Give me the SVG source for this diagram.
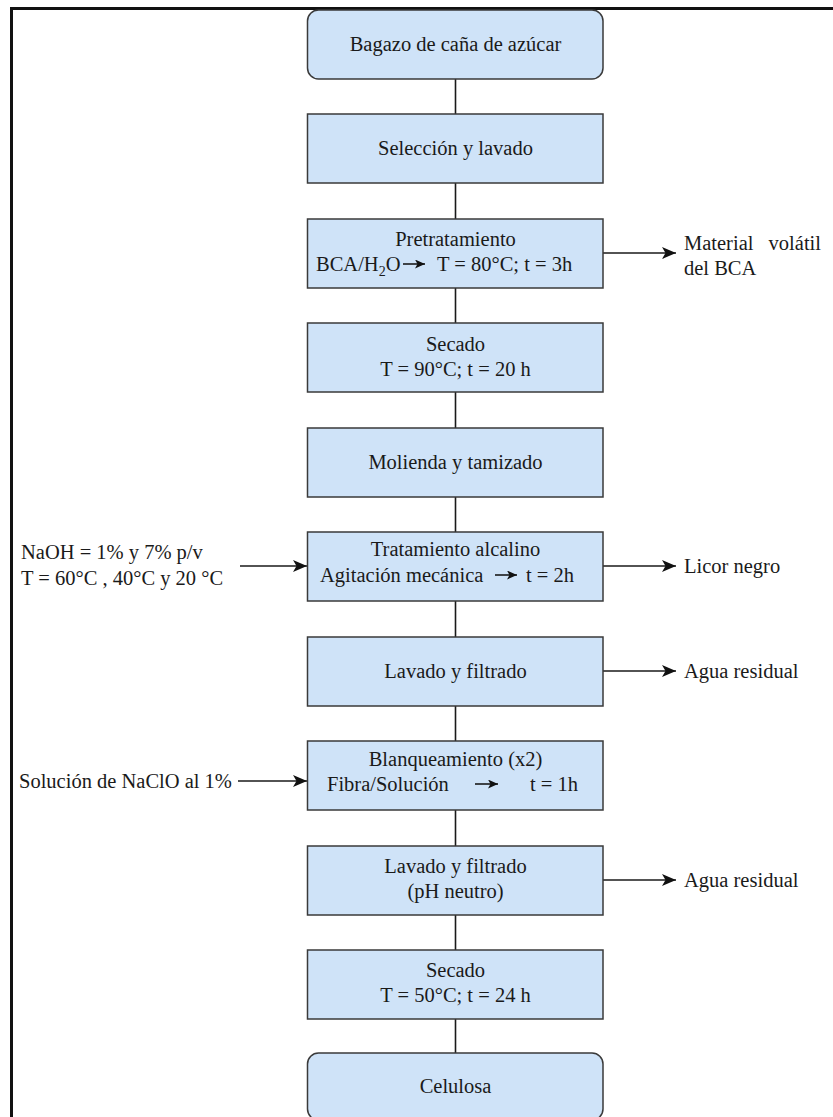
<svg xmlns="http://www.w3.org/2000/svg" width="833" height="1117" viewBox="0 0 833 1117">
<style>
.box{fill:#cfe3f8;stroke:#3a3a3a;stroke-width:1.5}
.t{font-family:"Liberation Serif","Times New Roman",serif;font-size:20.5px;fill:#1a1a1a}
.c{text-anchor:middle}
.ln{stroke:#1a1a1a;stroke-width:1.6;fill:none}
.fr{stroke:#111;stroke-width:3;fill:none}
</style>
<defs>
<marker id="ah" markerUnits="userSpaceOnUse" markerWidth="15" markerHeight="12" refX="14" refY="6" orient="auto">
<path d="M0,0 L14,6 L0,12 L3.5,6 Z" fill="#111"/>
</marker>
<marker id="sa" markerUnits="userSpaceOnUse" markerWidth="11" markerHeight="9" refX="10" refY="4.5" orient="auto">
<path d="M0,0 L10,4.5 L0,9 L2.5,4.5 Z" fill="#111"/>
</marker>
</defs>
<path class="fr" d="M11.5,1117 V8.5 H833"/>
<g id="connectors">
<line class="ln" x1="455.5" y1="79" x2="455.5" y2="114"/>
<line class="ln" x1="455.5" y1="183" x2="455.5" y2="219"/>
<line class="ln" x1="455.5" y1="288" x2="455.5" y2="323"/>
<line class="ln" x1="455.5" y1="392" x2="455.5" y2="428"/>
<line class="ln" x1="455.5" y1="497" x2="455.5" y2="532"/>
<line class="ln" x1="455.5" y1="601" x2="455.5" y2="637"/>
<line class="ln" x1="455.5" y1="706" x2="455.5" y2="741"/>
<line class="ln" x1="455.5" y1="810" x2="455.5" y2="846"/>
<line class="ln" x1="455.5" y1="915" x2="455.5" y2="950"/>
<line class="ln" x1="455.5" y1="1019" x2="455.5" y2="1053"/>
<line class="ln" x1="603" y1="253" x2="676" y2="253" marker-end="url(#ah)"/>
<line class="ln" x1="240" y1="566" x2="307" y2="566" marker-end="url(#ah)"/>
<line class="ln" x1="603" y1="566" x2="676" y2="566" marker-end="url(#ah)"/>
<line class="ln" x1="603" y1="671" x2="676" y2="671" marker-end="url(#ah)"/>
<line class="ln" x1="238" y1="781" x2="307" y2="781" marker-end="url(#ah)"/>
<line class="ln" x1="603" y1="880" x2="676" y2="880" marker-end="url(#ah)"/>
</g>
<g id="n1"><rect class="box" x="307.5" y="10" width="295.5" height="69" rx="11"/><text class="t c" x="455.5" y="51">Bagazo de caña de azúcar</text></g>
<g id="n2"><rect class="box" x="307.5" y="114" width="295.5" height="69"/><text class="t c" x="455.5" y="155">Selección y lavado</text></g>
<g id="n3"><rect class="box" x="307.5" y="219" width="295.5" height="69"/><text class="t c" x="455.5" y="246">Pretratamiento</text>
<text class="t" x="316" y="271">BCA/H<tspan font-size="14" dy="5">2</tspan><tspan dy="-5">O</tspan></text>
<line class="ln" x1="403" y1="264" x2="425" y2="264" marker-end="url(#sa)"/>
<text class="t" x="437" y="271">T = 80°C; t = 3h</text></g>
<g id="n4"><rect class="box" x="307.5" y="323" width="295.5" height="69"/><text class="t c" x="455.5" y="351">Secado</text><text class="t c" x="455.5" y="376">T = 90°C; t = 20 h</text></g>
<g id="n5"><rect class="box" x="307.5" y="428" width="295.5" height="69"/><text class="t c" x="455.5" y="469">Molienda y tamizado</text></g>
<g id="n6"><rect class="box" x="307.5" y="532" width="295.5" height="69"/><text class="t c" x="455.5" y="556">Tratamiento alcalino</text>
<text class="t" x="320" y="582">Agitación mecánica</text>
<line class="ln" x1="495" y1="575" x2="517" y2="575" marker-end="url(#sa)"/>
<text class="t" x="526" y="582">t = 2h</text></g>
<g id="n7"><rect class="box" x="307.5" y="637" width="295.5" height="69"/><text class="t c" x="455.5" y="678">Lavado y filtrado</text></g>
<g id="n8"><rect class="box" x="307.5" y="741" width="295.5" height="69"/><text class="t c" x="455.5" y="766">Blanqueamiento (x2)</text>
<text class="t" x="327" y="791">Fibra/Solución</text>
<line class="ln" x1="475" y1="784" x2="498" y2="784" marker-end="url(#sa)"/>
<text class="t" x="530" y="791">t = 1h</text></g>
<g id="n9"><rect class="box" x="307.5" y="846" width="295.5" height="69"/><text class="t c" x="455.5" y="873">Lavado y filtrado</text><text class="t c" x="455.5" y="898">(pH neutro)</text></g>
<g id="n10"><rect class="box" x="307.5" y="950" width="295.5" height="69"/><text class="t c" x="455.5" y="977">Secado</text><text class="t c" x="455.5" y="1002">T = 50°C; t = 24 h</text></g>
<g id="n11"><rect class="box" x="307.5" y="1053" width="295.5" height="67" rx="11"/><text class="t c" x="455.5" y="1093">Celulosa</text></g>
<g id="side">
<text class="t" x="684" y="250">Material</text><text class="t" x="821" y="250" text-anchor="end">volátil</text>
<text class="t" x="684" y="275">del BCA</text>
<text class="t" x="21" y="559">NaOH = 1% y 7% p/v</text>
<text class="t" x="21" y="585">T = 60°C , 40°C y 20 °C</text>
<text class="t" x="684" y="573">Licor negro</text>
<text class="t" x="684" y="678">Agua residual</text>
<text class="t" x="19" y="788">Solución de NaClO al 1%</text>
<text class="t" x="684" y="887">Agua residual</text>
</g>
</svg>
